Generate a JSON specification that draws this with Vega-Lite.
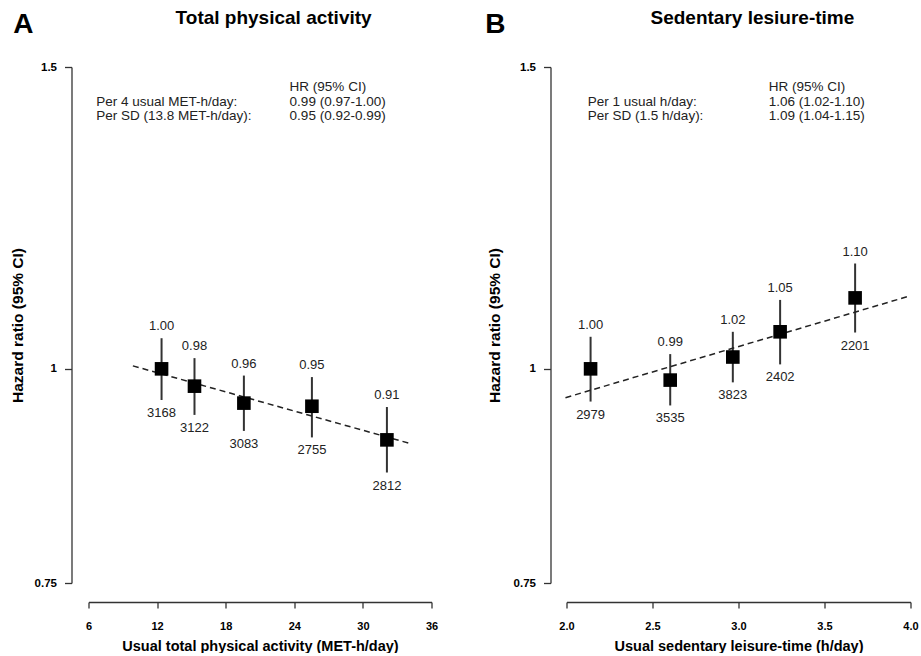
{
  "$schema": "https://vega.github.io/schema/vega-lite/v6.json",
  "padding": {"left": 10.5, "top": 9, "right": 0, "bottom": 0},
  "background": "white",
  "config": {
    "font": "Liberation Sans",
    "view": {"stroke": null},
    "concat": {"spacing": 46},
    "axis": {"domainColor": "#333", "tickColor": "#333", "labelColor": "#000", "titleColor": "#000", "grid": false, "domainWidth": 1.3, "tickWidth": 1.3, "labelFlush": false, "labelOverlap": false}
  },
  "datasets": {
    "pa": [
      {"x": 12.39, "hr": 1.0, "lo": 0.959, "hi": 1.042, "lab": "1.00", "n": 3168},
      {"x": 15.27, "hr": 0.977, "lo": 0.94, "hi": 1.0145, "lab": "0.98", "n": 3122},
      {"x": 19.59, "hr": 0.955, "lo": 0.92, "hi": 0.991, "lab": "0.96", "n": 3083},
      {"x": 25.54, "hr": 0.951, "lo": 0.912, "hi": 0.989, "lab": "0.95", "n": 2755},
      {"x": 32.1, "hr": 0.909, "lo": 0.87, "hi": 0.95, "lab": "0.91", "n": 2812}
    ],
    "pa_fit": [{"x": 9.88, "hr": 1.004}, {"x": 34.02, "hr": 0.905}],
    "pa_note": [
      {"x": 23.59, "hr": 1.46, "t": "HR (95% CI)"},
      {"x": 6.67, "hr": 1.432, "t": "Per 4 usual MET-h/day:"},
      {"x": 23.59, "hr": 1.432, "t": "0.99 (0.97-1.00)"},
      {"x": 6.67, "hr": 1.405, "t": "Per SD (13.8 MET-h/day):"},
      {"x": 23.59, "hr": 1.405, "t": "0.95 (0.92-0.99)"}
    ],
    "pa_letter": [{"x": 0.31, "hr": 1.57, "t": "A"}],
    "pa_title": [{"x": 22.19, "hr": 1.589, "t": "Total physical activity"}],
    "sed": [
      {"x": 2.14, "hr": 1.0, "lo": 0.957, "hi": 1.044, "lab": "1.00", "n": 2979},
      {"x": 2.603, "hr": 0.985, "lo": 0.952, "hi": 1.02, "lab": "0.99", "n": 3535},
      {"x": 2.967, "hr": 1.016, "lo": 0.982, "hi": 1.051, "lab": "1.02", "n": 3823},
      {"x": 3.242, "hr": 1.051, "lo": 1.006, "hi": 1.097, "lab": "1.05", "n": 2402},
      {"x": 3.678, "hr": 1.1, "lo": 1.05, "hi": 1.152, "lab": "1.10", "n": 2201}
    ],
    "sed_fit": [{"x": 1.994, "hr": 0.962}, {"x": 3.984, "hr": 1.102}],
    "sed_note": [
      {"x": 3.176, "hr": 1.46, "t": "HR (95% CI)"},
      {"x": 2.124, "hr": 1.432, "t": "Per 1 usual h/day:"},
      {"x": 3.176, "hr": 1.432, "t": "1.06 (1.02-1.10)"},
      {"x": 2.124, "hr": 1.405, "t": "Per SD (1.5 h/day):"},
      {"x": 3.176, "hr": 1.405, "t": "1.09 (1.04-1.15)"}
    ],
    "sed_letter": [{"x": 1.587, "hr": 1.57, "t": "B"}],
    "sed_title": [{"x": 3.081, "hr": 1.589, "t": "Sedentary lesiure-time"}]
  },
  "hconcat": [
    {
      "width": 343,
      "height": 516,
      "encoding": {
        "x": {"field": "x", "type": "quantitative", "scale": {"domain": [6, 36], "nice": false, "zero": false},
          "axis": {"title": "Usual total physical activity (MET-h/day)", "values": [6, 12, 18, 24, 30, 36], "offset": 19, "tickSize": 6, "labelFontSize": 11, "labelFontWeight": "bold", "labelPadding": 12, "titleFontSize": 14.5, "titleFontWeight": "bold", "titlePadding": 8}},
        "y": {"field": "hr", "type": "quantitative", "scale": {"type": "log", "domain": [0.75, 1.5], "nice": false, "zero": false},
          "axis": {"title": "Hazard ratio (95% CI)", "values": [0.75, 1, 1.5], "format": "~g", "offset": 17, "tickSize": 7, "labelFontSize": 11.5, "labelFontWeight": "bold", "labelPadding": 8, "titleFontSize": 15.5, "titleFontWeight": "bold", "titlePadding": 8.5}}
      },
      "layer": [
        {"data": {"name": "pa"}, "mark": {"type": "rule", "color": "#333", "strokeWidth": 2}, "encoding": {"y": {"field": "lo", "type": "quantitative"}, "y2": {"field": "hi"}}},
        {"data": {"name": "pa_fit"}, "mark": {"type": "line", "color": "#222", "strokeWidth": 1.5, "strokeDash": [6, 4]}, "encoding": {}},
        {"data": {"name": "pa"}, "mark": {"type": "square", "color": "#000", "opacity": 1, "size": 185}, "encoding": {}},
        {"data": {"name": "pa"}, "mark": {"type": "text", "fontSize": 13, "color": "#222", "baseline": "middle", "dy": -12}, "encoding": {"y": {"field": "hi", "type": "quantitative"}, "text": {"field": "lab", "type": "nominal"}}},
        {"data": {"name": "pa"}, "mark": {"type": "text", "fontSize": 13, "color": "#222", "baseline": "middle", "dy": 13}, "encoding": {"y": {"field": "lo", "type": "quantitative"}, "text": {"field": "n", "type": "nominal"}}},
        {"data": {"name": "pa_note"}, "mark": {"type": "text", "fontSize": 13.5, "color": "#222", "align": "left", "baseline": "middle"}, "encoding": {"text": {"field": "t", "type": "nominal"}}},
        {"data": {"name": "pa_letter"}, "mark": {"type": "text", "fontSize": 28, "fontWeight": "bold", "color": "#000", "align": "center", "baseline": "alphabetic"}, "encoding": {"text": {"field": "t", "type": "nominal"}}},
        {"data": {"name": "pa_title"}, "mark": {"type": "text", "fontSize": 19, "fontWeight": "bold", "color": "#000", "align": "center", "baseline": "alphabetic"}, "encoding": {"text": {"field": "t", "type": "nominal"}}}
      ]
    },
    {
      "width": 344,
      "height": 516,
      "encoding": {
        "x": {"field": "x", "type": "quantitative", "scale": {"domain": [2, 4], "nice": false, "zero": false},
          "axis": {"title": "Usual sedentary leisure-time (h/day)", "values": [2, 2.5, 3, 3.5, 4], "format": ".1f", "offset": 19, "tickSize": 6, "labelFontSize": 11, "labelFontWeight": "bold", "labelPadding": 12, "titleFontSize": 14.5, "titleFontWeight": "bold", "titlePadding": 8}},
        "y": {"field": "hr", "type": "quantitative", "scale": {"type": "log", "domain": [0.75, 1.5], "nice": false, "zero": false},
          "axis": {"title": "Hazard ratio (95% CI)", "values": [0.75, 1, 1.5], "format": "~g", "offset": 16, "tickSize": 7, "labelFontSize": 11.5, "labelFontWeight": "bold", "labelPadding": 8, "titleFontSize": 15.5, "titleFontWeight": "bold", "titlePadding": 11}}
      },
      "layer": [
        {"data": {"name": "sed"}, "mark": {"type": "rule", "color": "#333", "strokeWidth": 2}, "encoding": {"y": {"field": "lo", "type": "quantitative"}, "y2": {"field": "hi"}}},
        {"data": {"name": "sed_fit"}, "mark": {"type": "line", "color": "#222", "strokeWidth": 1.5, "strokeDash": [6, 4]}, "encoding": {}},
        {"data": {"name": "sed"}, "mark": {"type": "square", "color": "#000", "opacity": 1, "size": 185}, "encoding": {}},
        {"data": {"name": "sed"}, "mark": {"type": "text", "fontSize": 13, "color": "#222", "baseline": "middle", "dy": -12}, "encoding": {"y": {"field": "hi", "type": "quantitative"}, "text": {"field": "lab", "type": "nominal"}}},
        {"data": {"name": "sed"}, "mark": {"type": "text", "fontSize": 13, "color": "#222", "baseline": "middle", "dy": 13}, "encoding": {"y": {"field": "lo", "type": "quantitative"}, "text": {"field": "n", "type": "nominal"}}},
        {"data": {"name": "sed_note"}, "mark": {"type": "text", "fontSize": 13.5, "color": "#222", "align": "left", "baseline": "middle"}, "encoding": {"text": {"field": "t", "type": "nominal"}}},
        {"data": {"name": "sed_letter"}, "mark": {"type": "text", "fontSize": 28, "fontWeight": "bold", "color": "#000", "align": "center", "baseline": "alphabetic"}, "encoding": {"text": {"field": "t", "type": "nominal"}}},
        {"data": {"name": "sed_title"}, "mark": {"type": "text", "fontSize": 19, "fontWeight": "bold", "color": "#000", "align": "center", "baseline": "alphabetic"}, "encoding": {"text": {"field": "t", "type": "nominal"}}}
      ]
    }
  ]
}
